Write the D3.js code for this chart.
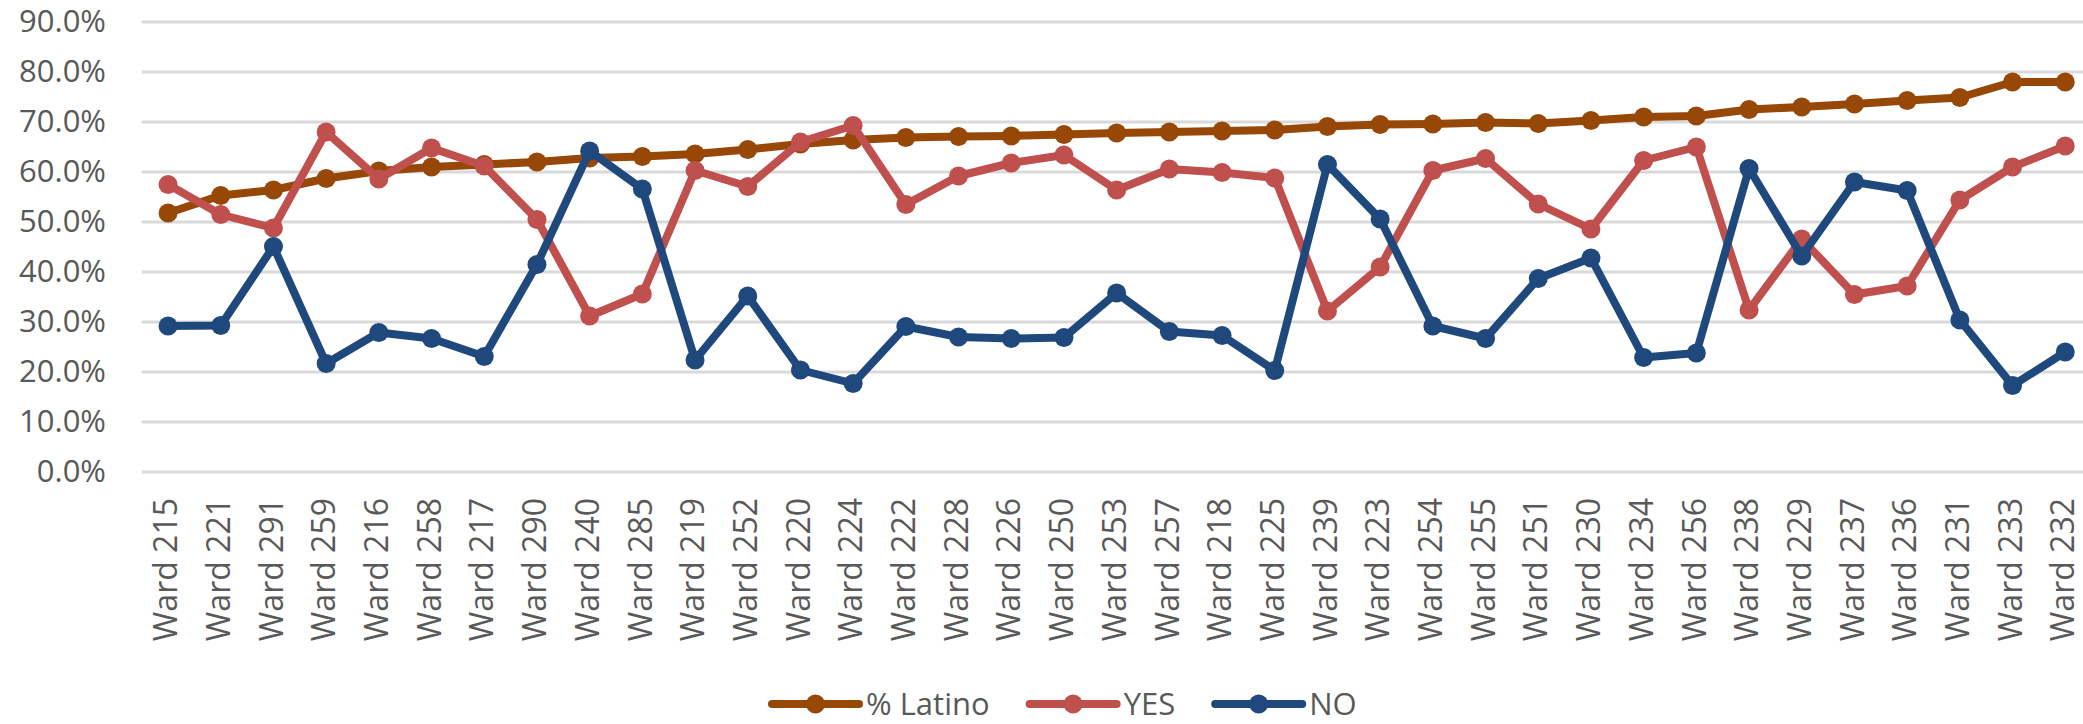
<!DOCTYPE html>
<html><head><meta charset="utf-8">
<script src="https://cdn.jsdelivr.net/npm/d3@7"></script>
<style>html,body{margin:0;padding:0;background:#fff;}svg{display:block;}</style>
</head><body>
<script>
const categories = ["Ward 215","Ward 221","Ward 291","Ward 259","Ward 216","Ward 258","Ward 217","Ward 290","Ward 240","Ward 285","Ward 219","Ward 252","Ward 220","Ward 224","Ward 222","Ward 228","Ward 226","Ward 250","Ward 253","Ward 257","Ward 218","Ward 225","Ward 239","Ward 223","Ward 254","Ward 255","Ward 251","Ward 230","Ward 234","Ward 256","Ward 238","Ward 229","Ward 237","Ward 236","Ward 231","Ward 233","Ward 232"];
const latino = [51.8,55.3,56.4,58.7,60.2,61.0,61.5,62.0,62.8,63.1,63.6,64.5,65.6,66.4,66.9,67.1,67.2,67.5,67.8,68.0,68.2,68.4,69.1,69.5,69.6,69.9,69.7,70.3,71.0,71.2,72.5,73.0,73.6,74.3,74.9,78.0,78.0];
const yes = [57.5,51.5,48.8,68.0,58.6,64.8,61.2,50.5,31.2,35.6,60.3,57.1,66.0,69.3,53.5,59.2,61.8,63.4,56.4,60.6,59.9,58.8,32.2,41.0,60.3,62.7,53.6,48.6,62.3,65.0,32.4,46.6,35.5,37.2,54.4,61.0,65.2];
const no = [29.2,29.3,45.1,21.7,27.9,26.7,23.1,41.5,64.2,56.6,22.4,35.2,20.4,17.7,29.1,27.0,26.7,26.9,35.8,28.1,27.3,20.3,61.5,50.6,29.2,26.7,38.7,42.8,22.9,23.8,60.7,43.2,58.0,56.3,30.4,17.3,24.0];
const yTicks = [0,10,20,30,40,50,60,70,80,90];
const seriesNames = ["% Latino","YES","NO"];
const seriesColors = ["#974706","#C0504D","#1F497D"];

const W = 2083, H = 724;
const font = "'Open Sans', sans-serif";
const textColor = "#595959";
const svg = d3.select("body").append("svg").attr("width", W).attr("height", H);

const x = d3.scaleBand().domain(categories).range([141.7, 141.7 + 52.7*categories.length]);
const y = d3.scaleLinear().domain([0, 90]).range([472, 22]);

// gridlines
svg.append("g").selectAll("line").data(yTicks).join("line")
  .attr("x1", 141.7).attr("x2", W)
  .attr("y1", d => y(d)).attr("y2", d => y(d))
  .attr("stroke", "#d9d9d9").attr("stroke-width", 3);

// y axis labels
const yAxis = d3.axisLeft(y).tickValues(yTicks).tickFormat(d => d.toFixed(1) + "%").tickSize(0).tickPadding(0);
const yg = svg.append("g").attr("transform", "translate(106,0)").call(yAxis);
yg.select(".domain").remove();
yg.selectAll("text").attr("font-family", font).attr("font-size", 31).attr("fill", textColor);

// x axis labels
const xAxis = d3.axisBottom(x).tickSize(0).tickPadding(0);
const xg = svg.append("g").attr("transform", "translate(-2,498)").call(xAxis);
xg.select(".domain").remove();
xg.selectAll("text")
  .attr("font-family", font).attr("font-size", 32).attr("fill", textColor)
  .attr("transform", "rotate(-90)")
  .attr("text-anchor", "end").attr("x", 0).attr("y", 0).attr("dy", "0.35em");

const allSeries = [latino, yes, no];
const line = d3.line().x((d, i) => x(categories[i]) + x.bandwidth()/2).y(d => y(d));

allSeries.forEach((vals, si) => {
  const g = svg.append("g");
  g.append("path").datum(vals).attr("d", line)
    .attr("fill", "none").attr("stroke", seriesColors[si])
    .attr("stroke-width", 8).attr("stroke-linejoin", "round");
  g.selectAll("circle").data(vals).join("circle")
    .attr("cx", (d, i) => x(categories[i]) + x.bandwidth()/2)
    .attr("cy", d => y(d)).attr("r", 9.5)
    .attr("fill", seriesColors[si]);
});

// legend
const legend = svg.append("g");
let lx = 772;
const ly = 704;
seriesNames.forEach((name, i) => {
  const g = legend.append("g");
  g.append("line").attr("x1", lx).attr("x2", lx + 87).attr("y1", ly).attr("y2", ly)
    .attr("stroke", seriesColors[i]).attr("stroke-width", 8).attr("stroke-linecap", "round");
  g.append("circle").attr("cx", lx + 43.5).attr("cy", ly).attr("r", 9.5).attr("fill", seriesColors[i]);
  const t = g.append("text").attr("x", lx + 94).attr("y", ly).attr("dy", "0.35em")
    .attr("font-family", font).attr("font-size", 31).attr("fill", textColor).text(name);
  lx = lx + 94 + t.node().getComputedTextLength() + 40;
});
</script>
</body></html>
